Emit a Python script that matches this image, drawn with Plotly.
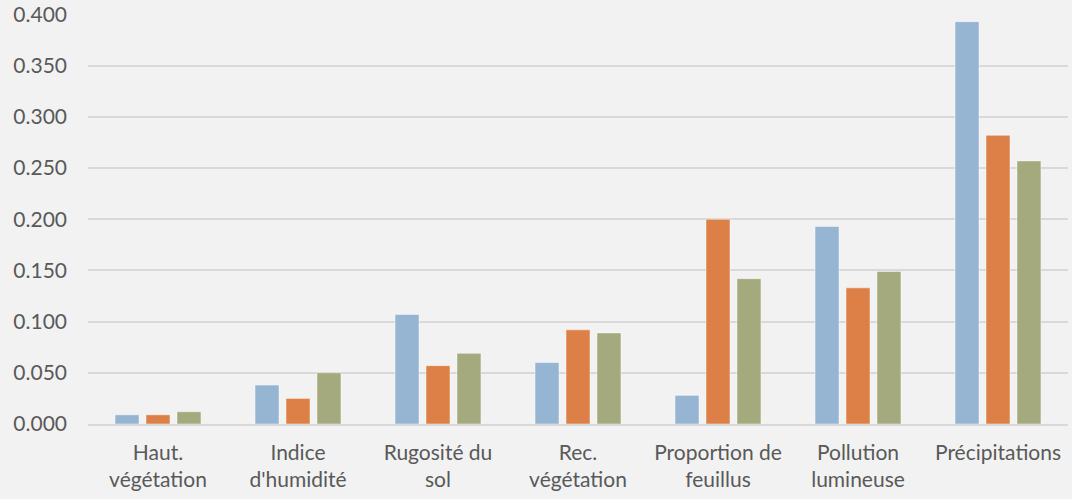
import plotly.graph_objects as go

# Données
categories = [
    "Haut.<br>végétation",
    "Indice<br>d'humidité",
    "Rugosité du<br>sol",
    "Rec.<br>végétation",
    "Proportion de<br>feuillus",
    "Pollution<br>lumineuse",
    "Précipitations",
]
serie_1 = [0.009, 0.038, 0.107, 0.060, 0.028, 0.193, 0.393]
serie_2 = [0.009, 0.025, 0.057, 0.092, 0.200, 0.133, 0.282]
serie_3 = [0.012, 0.050, 0.069, 0.089, 0.142, 0.149, 0.257]

tick_vals = [0.0, 0.05, 0.10, 0.15, 0.20, 0.25, 0.30, 0.35, 0.40]

BLUE = "#95B5D3"
ORANGE = "#DD8047"
GREEN = "#A5AA7E"
BG = "#F2F2F2"
GRID = "#D9D9D9"
TXT = "#595959"

fig = go.Figure()
for vals, col, name in [(serie_1, BLUE, "S1"), (serie_2, ORANGE, "S2"), (serie_3, GREEN, "S3")]:
    fig.add_trace(go.Bar(
        x=categories, y=vals, name=name,
        marker=dict(color=col, line=dict(color="rgba(255,255,255,0.45)", width=1)),
    ))

fig.update_layout(
    width=1072, height=499,
    barmode="group",
    bargap=0.336,
    bargroupgap=0.226,
    paper_bgcolor=BG,
    plot_bgcolor=BG,
    showlegend=False,
    margin=dict(l=88, r=4, t=14, b=75),
    font=dict(family="Lato, Open Sans, sans-serif", size=21, color=TXT),
)
fig.update_yaxes(
    range=[0, 0.4005],  # un peu au-dessus de 0.4 pour garder la grille du haut
    tickvals=tick_vals,
    tickformat=".3f",
    showgrid=True, gridcolor=GRID, gridwidth=1.5,
    zeroline=False,
    ticklabelstandoff=20,
    automargin=False,
)
fig.update_xaxes(
    showline=True, linecolor=GRID, linewidth=1.5,
    ticks="", tickangle=0,
    ticklabelstandoff=9,
    automargin=False,
)

# enlever la marge blanche de la page autour du graphique
fig.write_html(
    "out.html",
    config={"displayModeBar": False},
    post_script="document.body.style.margin='0';document.body.style.background='#F2F2F2';",
)
